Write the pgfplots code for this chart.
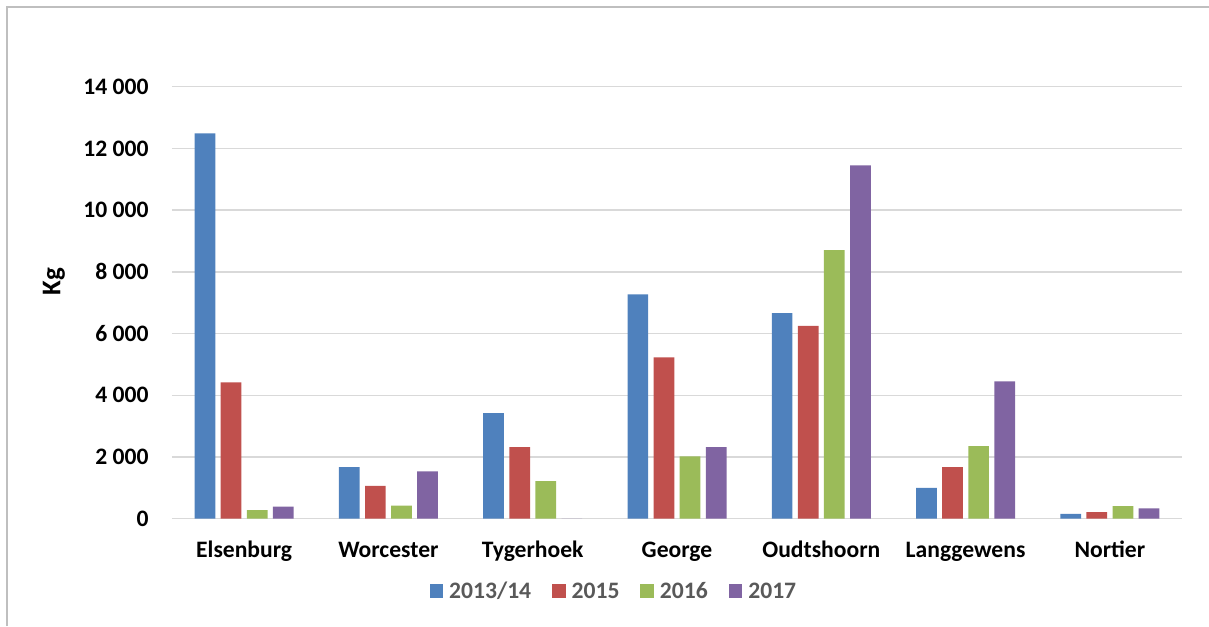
\documentclass[border=0pt]{standalone}
\usepackage{fontspec}
\setmainfont{Carlito}
\usepackage{pgfplots}
\pgfplotsset{compat=1.18}
\definecolor{cA}{HTML}{4F81BD}
\definecolor{cB}{HTML}{C0504D}
\definecolor{cC}{HTML}{9BBB59}
\definecolor{cD}{HTML}{8064A2}
\definecolor{gridg}{HTML}{D9D9D9}
\definecolor{frameg}{HTML}{BFBFBF}
\definecolor{leggray}{HTML}{595959}
\begin{document}
\begin{tikzpicture}
\path[use as bounding box] (0pt,0pt) rectangle (604.5pt,313pt);
\draw[color=frameg, line width=1pt] (3.5pt,0pt) -- (3.5pt,309.5pt) -- (604.5pt,309.5pt);
\begin{axis}[
  at={(86pt,53.65pt)}, anchor=south west,
  scale only axis, width=505pt, height=216pt,
  ybar=2.7pt, bar width=10.35pt,
  xmin=-0.5, xmax=6.5, ymin=0, ymax=14000,
  scaled y ticks=false,
  xtick={0,1,2,3,4,5,6},
  xticklabels={Elsenburg,Worcester,Tygerhoek,George,Oudtshoorn,Langgewens,Nortier},
  ytick={0,2000,4000,6000,8000,10000,12000,14000},
  yticklabels={0,2 000,4 000,6 000,8 000,10 000,12 000,14 000},
  ymajorgrids, major grid style={color=gridg, line width=0.75pt},
  axis line style={draw=none}, major tick length=0pt,
  tick label style={font=\fontsize{11.8}{14}\selectfont\bfseries, text=black},
  yticklabel style={anchor=east, inner sep=0pt, xshift=-11.5pt},
  xticklabel style={anchor=base, inner sep=0pt, yshift=-19.2pt},
  ylabel={Kg},
  ylabel style={at={(rel axis cs:-0.1168,0.548)}, anchor=center, font=\fontsize{13.5}{16}\selectfont\bfseries},
  legend columns=4,
  legend style={at={(rel axis cs:0.4366,-0.1697)}, anchor=center, draw=none, fill=none,
    font=\fontsize{11.8}{14}\selectfont\bfseries, text=leggray,
    nodes={inner xsep=0pt, inner ysep=0pt},
    /tikz/every odd column/.append style={column sep=3pt},
    /tikz/every even column/.append style={column sep=10.5pt}},
  legend image code/.code={\fill[#1] (0pt,-3pt) rectangle (6.75pt,4.1pt);},
]
\addplot[fill=cA, draw=none] coordinates {(0,12490) (1,1675) (2,3425) (3,7270) (4,6665) (5,995) (6,160)};
\addplot[fill=cB, draw=none] coordinates {(0,4420) (1,1060) (2,2320) (3,5230) (4,6245) (5,1675) (6,215)};
\addplot[fill=cC, draw=none] coordinates {(0,280) (1,420) (2,1220) (3,2020) (4,8705) (5,2355) (6,410)};
\addplot[fill=cD, draw=none] coordinates {(0,390) (1,1535) (2,0) (3,2320) (4,11450) (5,4450) (6,335)};
\legend{2013/14,2015,2016,2017}
\end{axis}
\end{tikzpicture}
\end{document}
